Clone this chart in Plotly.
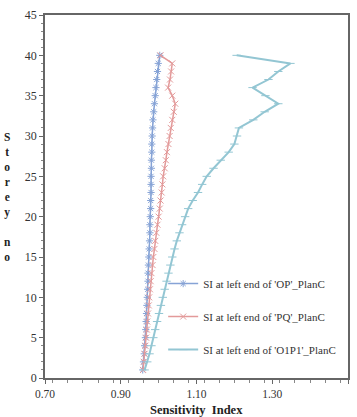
import plotly.graph_objects as go

# Storey numbers (1..40)
storeys = list(range(1, 41))

# Sensitivity index at left end of beam 'OP' (Plan C)
si_op = [0.958, 0.960, 0.962, 0.963, 0.965, 0.966, 0.967, 0.968, 0.969, 0.970,
         0.971, 0.972, 0.972, 0.973, 0.974, 0.975, 0.976, 0.977, 0.977, 0.978,
         0.979, 0.979, 0.980, 0.980, 0.980, 0.981, 0.981, 0.982, 0.982, 0.983,
         0.984, 0.985, 0.987, 0.989, 0.991, 0.993, 0.995, 0.997, 0.999, 1.003]

# Sensitivity index at left end of beam 'PQ' (Plan C)
si_pq = [0.959, 0.961, 0.963, 0.965, 0.967, 0.969, 0.970, 0.972, 0.974, 0.975,
         0.977, 0.979, 0.981, 0.984, 0.986, 0.989, 0.991, 0.994, 0.997, 1.000,
         1.003, 1.005, 1.008, 1.010, 1.012, 1.016, 1.019, 1.022, 1.026, 1.029,
         1.032, 1.036, 1.040, 1.044, 1.036, 1.025, 1.030, 1.033, 1.036, 1.005]

# Sensitivity index at left end of beam 'O1P1' (Plan C)
si_o1p1 = [0.963, 0.970, 0.976, 0.981, 0.986, 0.991, 0.996, 1.001, 1.006, 1.011,
           1.016, 1.021, 1.026, 1.031, 1.036, 1.042, 1.048, 1.055, 1.062, 1.070,
           1.078, 1.090, 1.104, 1.115, 1.127, 1.145, 1.164, 1.185, 1.200, 1.207,
           1.212, 1.250, 1.280, 1.316, 1.282, 1.248, 1.290, 1.316, 1.348, 1.206]

x_ticks = [0.70, 0.90, 1.10, 1.30, 1.50]
y_ticks = [0, 5, 10, 15, 20, 25, 30, 35, 40, 45]

names = ["SI at left end of 'OP'_PlanC",
         "SI at left end of 'PQ'_PlanC",
         "SI at left end of 'O1P1'_PlanC"]
series = [si_op, si_pq, si_o1p1]
colors = ["#86a3d6", "#e39a9a", "#93c6d3"]
symbols = ["asterisk-open", "x-thin-open", "line-ew-open"]

SERIF = "Liberation Serif, Times New Roman, serif"

fig = go.Figure()
for i, (nm, vals, col, sym) in enumerate(zip(names, series, colors, symbols)):
    fig.add_trace(go.Scatter(
        x=vals, y=storeys, name=nm, mode="lines+markers",
        legendgroup=f"g{i}",
        line=dict(color=col, width=2 if i == 2 else 1.5),
        marker=dict(symbol=sym, size=6, color=col, line=dict(color=col, width=1)),
    ))

fig.update_layout(
    width=357, height=417,
    margin=dict(l=45, r=7, t=15, b=39),
    paper_bgcolor="white", plot_bgcolor="white",
    font=dict(family=SERIF, size=12, color="#333333"),
    showlegend=True,
    legend=dict(x=0.39, y=0.30, xanchor="left", yanchor="top",
                bgcolor="rgba(0,0,0,0)", font=dict(family=SERIF, size=11, color="#333333"),
                tracegroupgap=14, itemwidth=30),
    xaxis=dict(range=[0.70, 1.50], tickvals=x_ticks, tickformat=".2f",
               showgrid=False, zeroline=False,
               showline=True, linecolor="#666666", linewidth=1.5, mirror=True,
               ticks="outside", ticklen=4, tickcolor="#666666",
               minor=dict(dtick=0.04, ticks="outside", ticklen=3, tickcolor="#888888"),
               tickfont=dict(family=SERIF, size=11.5, color="#333333")),
    yaxis=dict(range=[0, 45], tickvals=y_ticks,
               showgrid=False, zeroline=False,
               showline=True, linecolor="#666666", linewidth=1.5, mirror=True,
               ticks="outside", ticklen=4, tickcolor="#666666",
               minor=dict(dtick=1, ticks="outside", ticklen=2, tickcolor="#888888"),
               tickfont=dict(family=SERIF, size=12, color="#333333")),
)

# Axis titles
fig.add_annotation(text="<b>Sensitivity  Index</b>", xref="paper", yref="paper",
                   x=0.5, y=-0.088, xanchor="center", yanchor="middle",
                   showarrow=False, font=dict(family=SERIF, size=12.5, color="#222222"))
fig.add_annotation(text="<b>" + "<br>".join(list("Storey") + [""] + list("no")) + "</b>",
                   xref="paper", yref="paper", x=-0.125, y=0.50,
                   xanchor="center", yanchor="middle", showarrow=False,
                   font=dict(family=SERIF, size=11.5, color="#222222"))

fig.write_html("out.html")
